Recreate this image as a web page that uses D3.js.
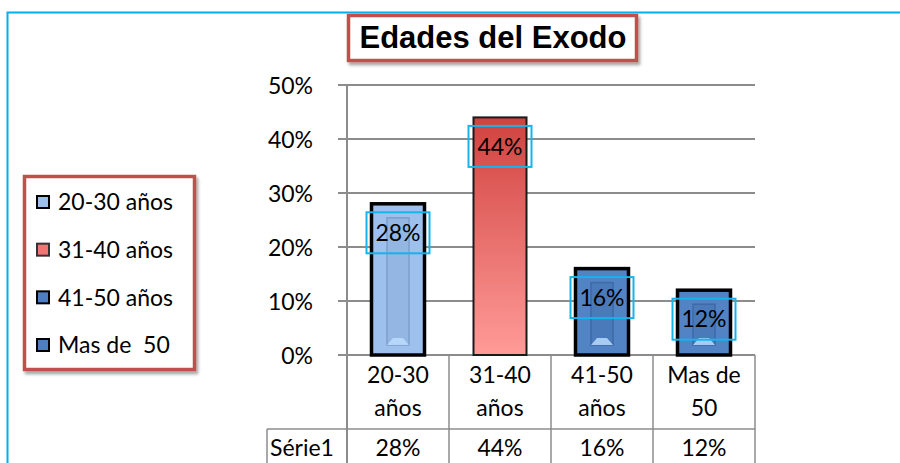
<!DOCTYPE html>
<html lang="es">
<head>
<meta charset="UTF-8">
<title>Edades del Exodo</title>
<script src="https://d3js.org/d3.v7.min.js"></script>
<style>
  html, body { margin: 0; padding: 0; background: #fff; }
  svg { display: block; }
  .lbl { font-family: Lato, "Open Sans", sans-serif; font-size: 23px; fill: #000; }
  .title { font-family: "Liberation Sans", Arial, sans-serif; font-weight: bold; font-size: 31px; }
</style>
</head>
<body>
<svg id="chart" width="900" height="463"></svg>
<script>
const categories = ["20-30 años", "31-40 años", "41-50 años", "Mas de 50"];
const catLines = [["20-30", "años"], ["31-40", "años"], ["41-50", "años"], ["Mas de", "50"]];
const legendLabels = ["20-30 años", "31-40 años", "41-50 años", "Mas de  50"];
const values = [0.28, 0.44, 0.16, 0.12];
const yTicks = [0, 0.1, 0.2, 0.3, 0.4, 0.5];
const seriesName = "Série1";

const svg = d3.select("#chart");
const defs = svg.append("defs");

// fills
const redGrad = defs.append("linearGradient").attr("id", "redGrad")
  .attr("x1", 0).attr("y1", 0).attr("x2", 0).attr("y2", 1);
redGrad.append("stop").attr("offset", "0%").attr("stop-color", "#D0423F");
redGrad.append("stop").attr("offset", "100%").attr("stop-color", "#FF9B98");

const fills = ["#9DC0EC", "url(#redGrad)", "#5283C5", "#5283C5"];
const innerFills = ["#93B6E2", null, "#4A7AB9", "#4A7AB9"];
const innerStroke = ["#7F9FCB", null, "#3E6AA6", "#3E6AA6"];
const legendFills = ["#9DC0EC", "#F07674", "#4F7FC2", "#4F7FC2"];

const shadow = defs.append("filter").attr("id", "shadow")
  .attr("x", "-10%").attr("y", "-10%").attr("width", "130%").attr("height", "140%");
shadow.append("feDropShadow").attr("dx", 2).attr("dy", 3).attr("stdDeviation", 1.5)
  .attr("flood-color", "#000").attr("flood-opacity", 0.35);

// outer frame (cyan)
svg.append("path").attr("d", "M7.5,463 V12.5 H900")
  .attr("fill", "none").attr("stroke", "#00B0F0").attr("stroke-width", 2);

// scales
const x = d3.scaleBand().domain(categories).range([347, 755]).paddingInner(0).paddingOuter(0);
const y = d3.scaleLinear().domain([0, 0.5]).range([355, 85]);

const barData = values.map((v, i) => ({ cat: categories[i], v, i }));

// gridlines
svg.append("g").selectAll("line").data(yTicks).join("line")
  .attr("x1", 338).attr("x2", 755)
  .attr("y1", d => y(d)).attr("y2", d => y(d))
  .attr("stroke", "#8C8C8C").attr("stroke-width", 2);

// y axis
const yAxis = svg.append("g").attr("transform", "translate(347,0)")
  .call(d3.axisLeft(y).tickValues(yTicks).tickFormat(d3.format(".0%")).tickSize(9).tickPadding(25));
yAxis.select(".domain").attr("stroke", "#8C8C8C").attr("stroke-width", 2).attr("d", "M0,85V463");
yAxis.selectAll(".tick line").remove();
yAxis.selectAll("text").attr("class", "lbl").attr("font-size", null).attr("font-family", null).attr("dy", "0.35em");

// bars
const barW = 53;
const cxOf = d => x(d.cat) + x.bandwidth() / 2;
const bars = svg.append("g").selectAll("g").data(barData).join("g");
bars.append("rect")
  .attr("x", d => cxOf(d) - barW / 2)
  .attr("y", d => y(d.v))
  .attr("width", barW)
  .attr("height", d => y(0) - y(d.v))
  .attr("fill", d => fills[d.i])
  .attr("stroke", d => d.i === 1 ? "#1a1a1a" : "#000")
  .attr("stroke-width", d => d.i === 1 ? 2 : 3.5);
// bevel panel
const bev = bars.filter(d => innerFills[d.i]);
bev.append("rect")
  .attr("x", d => cxOf(d) - 11)
  .attr("y", d => y(d.v) + 14)
  .attr("width", 22)
  .attr("height", d => Math.max(0, y(0) - y(d.v) - 24))
  .attr("fill", d => innerFills[d.i])
  .attr("stroke", d => innerStroke[d.i]).attr("stroke-width", 1.5);
bev.append("path")
  .attr("d", d => {
    const cx = cxOf(d);
    const b = y(0) - 10;
    return `M${cx - 11},${b} L${cx - 5},${b - 7} L${cx + 5},${b - 7} L${cx + 11},${b} Z`;
  })
  .attr("fill", "#BFE0FF").attr("opacity", 0.8);

// data labels
const labels = svg.append("g").selectAll("g").data(barData).join("g")
  .attr("transform", d => `translate(${cxOf(d)},${y(d.v) + 29})`);
labels.append("rect").attr("x", -31.5).attr("y", -20.5).attr("width", 63).attr("height", 41)
  .attr("fill", "none").attr("stroke", "#16B3EC").attr("stroke-width", 2);
labels.append("text").attr("class", "lbl").attr("text-anchor", "middle").attr("dy", "0.36em")
  .text(d => d3.format(".0%")(d.v));

// data table
const tbl = svg.append("g");
const grid = "#8C8C8C";
tbl.append("line").attr("x1", 267).attr("x2", 755).attr("y1", 429).attr("y2", 429).attr("stroke", grid).attr("stroke-width", 1.5);
tbl.append("line").attr("x1", 267).attr("x2", 267).attr("y1", 429).attr("y2", 463).attr("stroke", grid).attr("stroke-width", 1.5);
categories.forEach((c, i) => {
  const xr = x(c) + x.bandwidth();
  tbl.append("line").attr("x1", xr).attr("x2", xr).attr("y1", 355).attr("y2", 463).attr("stroke", grid).attr("stroke-width", 1.5);
  const cx = x(c) + x.bandwidth() / 2;
  catLines[i].forEach((t, j) => {
    tbl.append("text").attr("class", "lbl").attr("text-anchor", "middle")
      .attr("x", cx).attr("y", 375 + j * 33).attr("dy", "0.36em").text(t);
  });
  tbl.append("text").attr("class", "lbl").attr("text-anchor", "middle")
    .attr("x", cx).attr("y", 448).attr("dy", "0.36em").text(d3.format(".0%")(values[i]));
});
tbl.append("text").attr("class", "lbl").attr("x", 270).attr("y", 448).attr("dy", "0.36em").text(seriesName);

// title
const tg = svg.append("g");
tg.append("rect").attr("x", 348.5).attr("y", 15.5).attr("width", 288).attr("height", 45)
  .attr("fill", "#fff").attr("stroke", "#C0504D").attr("stroke-width", 3.5).attr("filter", "url(#shadow)");
tg.append("text").attr("class", "title").attr("x", 493).attr("y", 48).attr("text-anchor", "middle")
  .text("Edades del Exodo");

// legend
const lg = svg.append("g");
lg.append("rect").attr("x", 24.5).attr("y", 176.5).attr("width", 170).attr("height", 193)
  .attr("fill", "#fff").attr("stroke", "#C0504D").attr("stroke-width", 3.5).attr("filter", "url(#shadow)");
const ly = d3.scalePoint().domain(legendLabels).range([202, 345]);
const items = lg.selectAll("g.item").data(legendLabels).join("g").attr("class", "item")
  .attr("transform", d => `translate(0,${ly(d)})`);
items.append("rect").attr("x", 37).attr("y", -6).attr("width", 12).attr("height", 12)
  .attr("fill", (d, i) => legendFills[i])
  .attr("stroke", (d, i) => i === 1 ? "#333" : "#000").attr("stroke-width", 2);
items.append("text").attr("class", "lbl").attr("x", 58).attr("dy", "0.36em")
  .style("white-space", "pre").text(d => d);
</script>
</body>
</html>
